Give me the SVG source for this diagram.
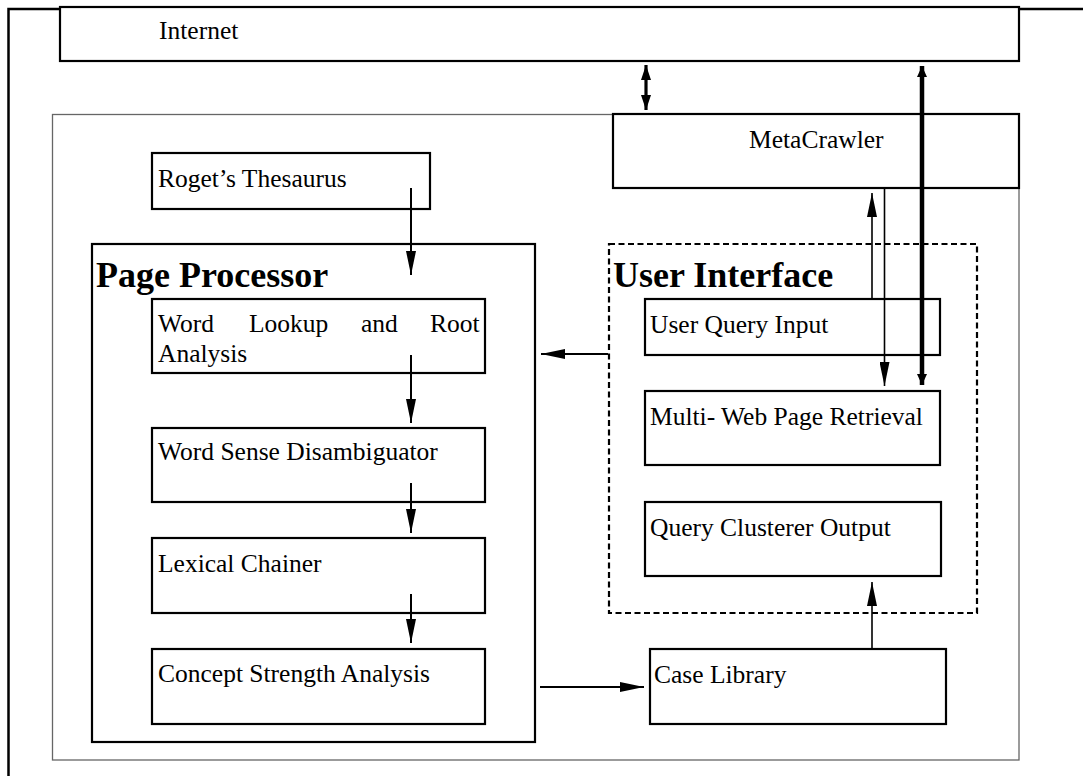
<svg xmlns="http://www.w3.org/2000/svg" width="1083" height="776" viewBox="0 0 1083 776">
<style>
.box{fill:#fff;stroke:#000;stroke-width:2.2}
.t{font-family:"Liberation Serif","Times New Roman",serif;font-size:25.5px;fill:#000}
.b{font-family:"Liberation Serif","Times New Roman",serif;font-size:36px;font-weight:bold;fill:#000}
.c{stroke:#000;fill:none}
</style>
<defs>
<marker id="ah" markerUnits="userSpaceOnUse" markerWidth="24" markerHeight="10" viewBox="0 0 24 10" refX="24" refY="5" orient="auto"><path d="M0,0 L24,5 L0,10 z" fill="#000"/></marker>
<marker id="ahm" markerUnits="userSpaceOnUse" markerWidth="15" markerHeight="10" viewBox="0 0 15 10" refX="15" refY="5" orient="auto-start-reverse"><path d="M0,0 L15,5 L0,10 z" fill="#000"/></marker>
<marker id="aht" markerUnits="userSpaceOnUse" markerWidth="11" markerHeight="10" viewBox="0 0 11 10" refX="11" refY="5" orient="auto-start-reverse"><path d="M0,0 L11,5 L0,10 z" fill="#000"/></marker>
</defs>
<rect width="1083" height="776" fill="#fff"/>
<g id="outer-frame"><path d="M8.5,776 V9 H1083" fill="none" stroke="#000" stroke-width="2.5"/></g>
<g id="system-frame"><rect x="52.5" y="114.5" width="966.5" height="645.5" fill="none" stroke="#666" stroke-width="1.3"/></g>
<g id="internet"><rect class="box" x="60" y="7" width="959" height="54"/><text class="t" x="159" y="39">Internet</text></g>
<g id="metacrawler"><rect class="box" x="613" y="114" width="406" height="74"/><text class="t" x="749" y="148">MetaCrawler</text></g>
<g id="roget"><rect class="box" x="152" y="153" width="278" height="56"/><text class="t" x="158" y="187">Roget’s Thesaurus</text></g>
<g id="page-processor"><rect class="box" x="92" y="244" width="443" height="498" fill="none"/><text class="b" x="96" y="287">Page Processor</text></g>
<g id="word-lookup"><rect class="box" x="152" y="299" width="333" height="74"/><text class="t" y="332"><tspan x="158">Word</tspan><tspan x="249">Lookup</tspan><tspan x="361">and</tspan><tspan x="430">Root</tspan></text><text class="t" x="158" y="362">Analysis</text></g>
<g id="word-sense"><rect class="box" x="152" y="428" width="333" height="74"/><text class="t" x="158" y="460">Word Sense Disambiguator</text></g>
<g id="lexical-chainer"><rect class="box" x="152" y="538" width="333" height="75"/><text class="t" x="158" y="572">Lexical Chainer</text></g>
<g id="concept-strength"><rect class="box" x="152" y="649" width="333" height="75"/><text class="t" x="158" y="682">Concept Strength Analysis</text></g>
<g id="user-interface"><rect x="609" y="244" width="368" height="369" fill="none" stroke="#000" stroke-width="2.2" stroke-dasharray="6,3.5"/><text class="b" x="613" y="287">User Interface</text></g>
<g id="user-query-input"><rect class="box" x="645" y="299" width="295" height="56"/><text class="t" x="650" y="333">User Query Input</text></g>
<g id="multi-web"><rect class="box" x="645" y="391" width="295" height="74"/><text class="t" x="650" y="425">Multi- Web Page Retrieval</text></g>
<g id="query-clusterer"><rect class="box" x="645" y="502" width="296" height="74"/><text class="t" x="650" y="536">Query Clusterer Output</text></g>
<g id="case-library"><rect class="box" x="650" y="649" width="296" height="75"/><text class="t" x="654" y="683">Case Library</text></g>
<g id="connectors">
<line class="c" x1="646" y1="65" x2="646" y2="110" stroke-width="3.2" marker-start="url(#ahm)" marker-end="url(#ahm)"/>
<line class="c" x1="922" y1="66" x2="922" y2="385" stroke-width="4.5" marker-start="url(#aht)" marker-end="url(#aht)"/>
<line class="c" x1="872" y1="299" x2="872" y2="193" stroke-width="1.6" marker-end="url(#ah)"/>
<line class="c" x1="884.5" y1="188" x2="884.5" y2="386" stroke-width="1.6" marker-end="url(#ah)"/>
<line class="c" x1="411" y1="188" x2="411" y2="275" stroke-width="2" marker-end="url(#ah)"/>
<line class="c" x1="411" y1="355" x2="411" y2="423" stroke-width="2" marker-end="url(#ah)"/>
<line class="c" x1="411" y1="483" x2="411" y2="533" stroke-width="2" marker-end="url(#ah)"/>
<line class="c" x1="411" y1="594" x2="411" y2="643" stroke-width="2" marker-end="url(#ah)"/>
<line class="c" x1="540" y1="687" x2="644" y2="687" stroke-width="2" marker-end="url(#ah)"/>
<line class="c" x1="872" y1="649" x2="872" y2="582" stroke-width="1.6" marker-end="url(#ah)"/>
<line class="c" x1="608" y1="354" x2="541" y2="354" stroke-width="2" marker-end="url(#ah)"/>
</g>
</svg>
